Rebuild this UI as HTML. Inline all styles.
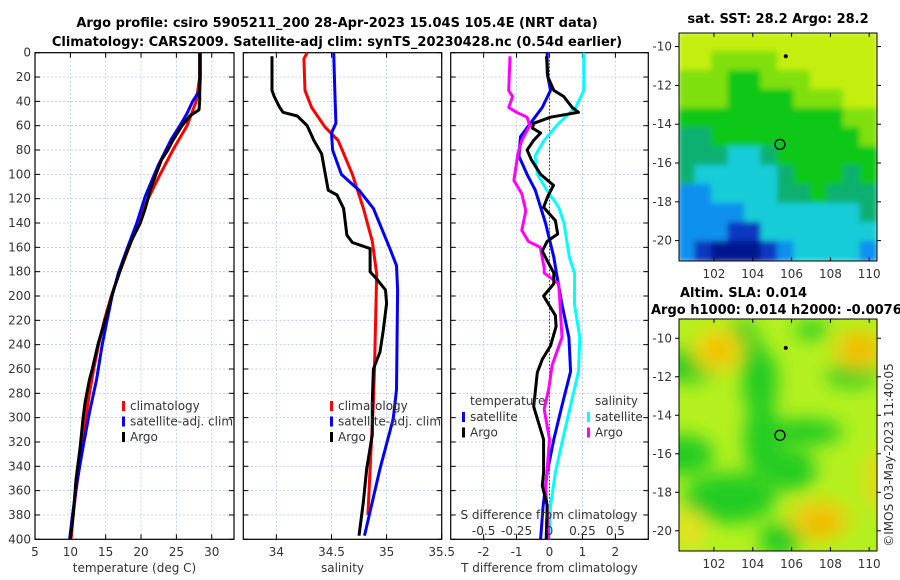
<!DOCTYPE html>
<html><head><meta charset="utf-8">
<style>
body{margin:0;background:#fff;}
svg{display:block;font-family:"DejaVu Sans","Liberation Sans",sans-serif;}
.tk{font-size:12px;fill:#333;}
.tt{font-size:13px;font-weight:bold;fill:#000;}
</style></head>
<body>
<svg id="fig" width="900" height="580" viewBox="0 0 900 580" xmlns="http://www.w3.org/2000/svg">
<defs>
<filter id="bl" x="-50%" y="-50%" width="200%" height="200%"><feGaussianBlur stdDeviation="9"/></filter>
<filter id="bl2" x="-20%" y="-20%" width="140%" height="140%"><feGaussianBlur stdDeviation="3"/></filter>
<clipPath id="c1"><rect x="679" y="33" width="198" height="228"/></clipPath>
<clipPath id="c2"><rect x="679" y="319" width="198" height="232"/></clipPath>
</defs>
<text class="tt" x="337" y="27" text-anchor="middle">Argo profile: csiro 5905211_200 28-Apr-2023 15.04S 105.4E (NRT data)</text>
<text class="tt" x="337" y="46" text-anchor="middle">Climatology: CARS2009. Satellite-adj clim: synTS_20230428.nc (0.54d earlier)</text>
<g id="g"></g>
</svg>
<script>
// ---- depth grid / data ----
const tempArgoDepth=[0,20,40,47,52,60,72,80,88,100,113,128,140,154,168,180,195,220,240,260,269,287,300,324,351,380,400];
const tempArgo=[28.3,28.3,28.3,28.2,26.9,25.8,24.5,23.8,22.9,22.1,21.3,20.6,19.9,18.7,17.7,17.0,16.1,14.9,13.9,13.1,12.7,12.1,11.8,11.4,10.8,10.4,10.0];
const tempClimDepth=[0,20,40,60,80,100,120,140,160,180,200,220,240,260,280,300,320,340,360,380,400];
const tempClim=[28.3,28.3,27.8,26.5,24.5,22.7,21.0,19.6,18.3,17.0,15.8,14.8,14.0,13.3,12.7,12.2,11.7,11.3,10.8,10.4,10.1];
const tempSatDepth=[0,20,31,40,50,58,71,93,118,140,160,181,200,220,240,269,296,324,351,380,400];
const tempSat=[28.4,28.4,28.3,27.3,26.5,25.7,24.3,22.4,20.6,19.4,18.1,16.8,15.9,15.2,14.5,13.7,12.7,11.8,11.0,10.3,9.9];

const salArgoDepth=[3,31,36,45,49,52,60,72,83,113,117,128,150,156,161,180,186,195,206,228,246,260,287,314,342,369,397];
const salArgo=[33.96,33.96,33.98,34.03,34.06,34.19,34.28,34.34,34.41,34.47,34.55,34.61,34.64,34.69,34.85,34.85,34.91,34.99,35.0,34.97,34.94,34.88,34.87,34.87,34.82,34.79,34.75];
const salClimDepth=[0,5,31,45,61,72,100,128,155,182,220,260,287,342,380];
const salClim=[34.28,34.25,34.26,34.32,34.44,34.56,34.69,34.79,34.87,34.91,34.90,34.89,34.88,34.85,34.83];
const salSatDepth=[0,31,58,66,80,100,113,128,161,175,195,277,301,342,397];
const salSat=[34.52,34.53,34.54,34.50,34.51,34.59,34.75,34.88,35.03,35.09,35.10,35.09,35.06,34.94,34.80];

const dTArgoDepth=[3,20,31,36,45,49,53,58,62,66,72,80,88,100,109,118,127,138,149,155,163,171,181,190,200,216,225,241,252,263,291,318,345,356,372,400];
const dTArgo=[-0.09,-0.05,0.13,0.43,0.69,0.88,0.03,-0.48,-0.52,-0.27,-0.48,-0.68,-0.55,-0.27,0.12,-0.05,-0.18,0.18,0.25,-0.07,-0.22,-0.07,0.13,0.13,-0.18,0.18,0.2,0.03,-0.22,-0.37,-0.48,-0.18,-0.18,-0.22,-0.07,-0.1];
const dTSatDepth=[0,17,31,45,58,69,85,100,113,140,168,181,207,234,262,290,318,345,372,400];
const dTSat=[-0.07,-0.07,0.03,-0.22,-0.58,-0.88,-0.93,-0.68,-0.43,-0.12,0.13,0.21,0.38,0.59,0.64,0.38,0.13,-0.07,-0.19,-0.27];
const dSSatDepth=[0,31,45,58,72,85,100,113,127,140,168,181,207,234,262,290,318,345,372,400];
const dSSat=[0.26,0.26,0.20,0.07,-0.04,-0.11,-0.09,-0.02,0.07,0.11,0.15,0.19,0.19,0.23,0.22,0.16,0.10,0.045,0.008,-0.005];
const dSArgoDepth=[3,31,36,45,49,53,60,72,83,105,116,130,146,155,160,177,181,190,207,234,257,276,293,318,345,356,372,400];
const dSArgo=[-0.30,-0.31,-0.28,-0.31,-0.25,-0.17,-0.15,-0.21,-0.24,-0.27,-0.21,-0.18,-0.21,-0.16,-0.07,-0.04,-0.04,0.07,0.08,0.095,0.02,-0.005,-0.04,0.0,-0.02,-0.03,-0.02,-0.005];

const tempTicks=[5,10,15,20,25,30];
const salTicks=[34,34.5,35,35.5];
const dTTicks=[-2,-1,0,1,2];
const dSTicks=[-0.5,-0.25,0,0.25,0.5];
const dSTickLabels=["-0.5","-0.25","0","0.25","0.5"];
const depthTicks=[0,20,40,60,80,100,120,140,160,180,200,220,240,260,280,300,320,340,360,380,400];
const lonTicks=[102,104,106,108,110];
const latTicks=[-10,-12,-14,-16,-18,-20];

// ---- layout / scales ----
const Y0=52.7, Y1=539.3;
const yD=d=>Y0+(Y1-Y0)*d/400;
const panels=[
 {name:'temperature',x0:35,x1:234,v0:5,v1:33.15},
 {name:'salinity',x0:243.3,x1:441.7,v0:33.7,v1:35.5},
 {name:'difference',x0:450.7,x1:648.3,v0:-3,v1:3}
];
const sx=(p,v)=>p.x0+(p.x1-p.x0)*(v-p.v0)/(p.v1-p.v0);
const NS='http://www.w3.org/2000/svg';
const G=document.getElementById('g');
function mk(tag,attrs,parent){const e=document.createElementNS(NS,tag);for(const k in attrs)e.setAttribute(k,attrs[k]);(parent||G).appendChild(e);return e;}
function txt(x,y,s,cls,anchor){const t=mk('text',{x:x,y:y,class:cls||'tk','text-anchor':anchor||'middle'});t.textContent=s;return t;}

function frame(p,ticks,labels,xlabel,showDepth){
  const g=mk('g',{});
  
  
  ticks.forEach(v=>{const x=sx(p,v);mk('line',{x1:x,x2:x,y1:Y0,y2:Y1,stroke:'#b8c4ee','stroke-width':0.8,'stroke-dasharray':'2,2'},g);});
  depthTicks.forEach(d=>{const y=yD(d);mk('line',{x1:p.x0,x2:p.x1,y1:y,y2:y,stroke:'#b8c4ee','stroke-width':0.8,'stroke-dasharray':'2,2'},g);
    mk('line',{x1:p.x0,x2:p.x0+5,y1:y,y2:y,stroke:'#000'},g);mk('line',{x1:p.x1-5,x2:p.x1,y1:y,y2:y,stroke:'#000'},g);
    if(showDepth){const t=txt(p.x0-4,y+4,String(d),'tk','end');}});
  ticks.forEach((v,i)=>{const x=sx(p,v);mk('line',{x1:x,x2:x,y1:Y1-5,y2:Y1,stroke:'#000'},g);mk('line',{x1:x,x2:x,y1:Y0,y2:Y0+5,stroke:'#000'},g);
    const t=txt(x,556,labels[i]);});
  mk('rect',{x:p.x0,y:Y0,width:p.x1-p.x0,height:Y1-Y0,fill:'none',stroke:'#000','stroke-width':1.2},g);
  const xl=txt((p.x0+p.x1)/2,572,xlabel);
}
function line(p,vals,depths,color,name,scale){
  const pts=vals.map((v,i)=>sx(p,v*(scale||1)).toFixed(1)+','+yD(depths[i]).toFixed(1)).join(' ');
  const e=mk('polyline',{points:pts,fill:'none',stroke:color,'stroke-width':3,'stroke-linejoin':'round'});
  
  
}
function legend(x,y,items){
  items.forEach((it,i)=>{const yy=y+i*15.5;mk('rect',{x:x,y:yy-9,width:3,height:10,fill:it[1]});
    const t=txt(x+8,yy,it[0],'tk','start');});
}
frame(panels[0],tempTicks,tempTicks.map(String),'temperature (deg C)',true);
frame(panels[1],salTicks,salTicks.map(String),'salinity',false);
frame(panels[2],dTTicks,dTTicks.map(String),'T difference from climatology',false);
{const x=sx(panels[2],0);const z=mk('line',{x1:x,x2:x,y1:Y0,y2:Y1,stroke:'#333','stroke-dasharray':'1.5,2'});}
line(panels[0],tempClim,tempClimDepth,'#ff0000','temp-climatology-line');
line(panels[0],tempSat,tempSatDepth,'#0000ff','temp-satellite-line');
line(panels[0],tempArgo,tempArgoDepth,'#000','temp-argo-line');
line(panels[1],salClim,salClimDepth,'#ff0000','sal-climatology-line');
line(panels[1],salSat,salSatDepth,'#0000ff','sal-satellite-line');
line(panels[1],salArgo,salArgoDepth,'#000','sal-argo-line');
line(panels[2],dSSat,dSSatDepth,'#00ffff','dS-satellite-line',4);
line(panels[2],dTSat,dTSatDepth,'#0000ff','dT-satellite-line');
line(panels[2],dSArgo,dSArgoDepth,'#ff00ff','dS-argo-line',4);
line(panels[2],dTArgo,dTArgoDepth,'#000','dT-argo-line');
legend(122,410,[['climatology','#ff0000'],['satellite-adj. clim','#0000ff'],['Argo','#000']]);
legend(330,410,[['climatology','#ff0000'],['satellite-adj. clim','#0000ff'],['Argo','#000']]);
{const t=txt(470,405,'temperature','tk','start');}
legend(462,421,[['satellite','#0000ff'],['Argo','#000']]);
{const t=txt(595,405,'salinity','tk','start');}
legend(587,421,[['satellite','#00ffff'],['Argo','#ff00ff']]);
{const t=txt(549,519,'S difference from climatology');}
dSTicks.forEach((v,i)=>{const t=txt(sx(panels[2],v*4),535,dSTickLabels[i]);});

// ---- maps ----
const MX0=679,MX1=877,lon0=100.2,lon1=110.4;
const mlx=l=>MX0+(MX1-MX0)*(l-lon0)/(lon1-lon0);
const sst=["YYYYYYYYYYYY","YYLLLLYYYYYY","LLLGGLLLYYYY","LLLGGGGLLLYY","GGGGGGGGGGLL","TTGGGGGGGGGL","TTTCCTGGGGGG","TCCCCCTGGGTG","BBCCCCTTGTTT","BBBBCCCCCCCT","BBBDDCCCCCCC","BDNNNDBCCCCB"];
const pal={Y:'#c4ee10',L:'#80e010',G:'#10c818',T:'#10b070',C:'#18ccd8',B:'#1090ee',D:'#0838c0',N:'#001890'};
function mapFrame(top,bot,latTop,latBot,nameP){
  const ly=l=>top+(bot-top)*(l-latTop)/(latBot-latTop);
  const g=mk('g',{});
  
  
  mk('rect',{x:MX0,y:top,width:MX1-MX0,height:bot-top,fill:'none',stroke:'#000'},g);
  lonTicks.forEach(l=>{const x=mlx(l);mk('line',{x1:x,x2:x,y1:bot-4,y2:bot,stroke:'#000'},g);mk('line',{x1:x,x2:x,y1:top,y2:top+4,stroke:'#000'},g);
    const t=txt(x,bot+17,String(l));});
  latTicks.forEach(l=>{const y=ly(l);mk('line',{x1:MX0-4,x2:MX0,y1:y,y2:y,stroke:'#000'},g);mk('line',{x1:MX1,x2:MX1+4,y1:y,y2:y,stroke:'#000'},g);
    const t=txt(MX0-7,y+4,String(l),'tk','end');});
  const c=mk('circle',{cx:mlx(105.4),cy:ly(-15.04),r:5,fill:'none',stroke:'#000','stroke-width':1.3});
  
  const d=mk('circle',{cx:mlx(105.7),cy:ly(-10.5),r:2,fill:'#000'});
  
}
{const g=mk('g',{'clip-path':'url(#c1)'});
 const gi=mk('g',{filter:'url(#bl2)'},g);
 const cw=(MX1-MX0)/12,ch=228/12;
 sst.forEach((row,r)=>row.split('').forEach((k,c)=>mk('rect',{x:MX0+c*cw-1,y:33+r*ch-1,width:cw+2,height:ch+2,fill:pal[k]},gi)));}
mapFrame(33,261,-9.3,-21.05,'sst');
{const g=mk('g',{'clip-path':'url(#c2)'});
 mk('rect',{x:679,y:319,width:198,height:232,fill:'#b4f020'},g);
 const b=mk('g',{filter:'url(#bl)'},g);
 [[690,365,30,17],[745,352,18,18],[682,455,32,20],[760,382,18,34],[762,440,18,38],[805,432,38,13],[852,375,26,12],[790,470,26,21],[730,498,46,25],[780,540,21,17],[742,330,15,9],[812,330,17,9]].forEach(e=>mk('ellipse',{cx:e[0],cy:e[1],rx:e[2],ry:e[3],fill:'#20cc20'},b));
 [[718,350,26,22,'#f0d810'],[858,350,25,20,'#f0cc08'],[820,520,30,20,'#f0cc08'],[690,530,15,20,'#e8e020'],[875,480,10,30,'#e8d818'],[718,350,12,10,'#f0b400'],[860,348,12,10,'#f0b400'],[821,524,14,10,'#f0b400']].forEach(e=>mk('ellipse',{cx:e[0],cy:e[1],rx:e[2],ry:e[3],fill:e[4]},b));}
mapFrame(319,551,-9.0,-21.05,'sla');
{const t=txt(778,23,'sat. SST: 28.2 Argo: 28.2','tt');}
{const t=txt(680,297,'Altim. SLA: 0.014','tt','start');}
{const t=txt(651,314,'Argo h1000: 0.014 h2000: -0.0076','tt','start');}
{const t=txt(0,0,'©IMOS 03-May-2023 11:40:05','tk','middle');t.setAttribute('transform','translate(893,455) rotate(-90)');}
</script>
</body></html>
